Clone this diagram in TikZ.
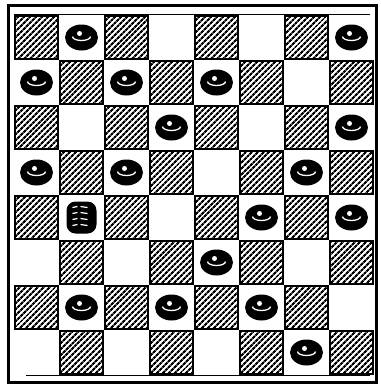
\documentclass[tikz,border=0pt]{standalone}
\usepackage{tikz}
\usetikzlibrary{shapes.geometric,patterns.meta}

\tikzset{
  dark/.style={pattern={Lines[angle=45,distance=4pt,line width=2.3pt]},
               draw=black, line width=1.1pt},
  man/.style={ellipse, fill=black, minimum width=33pt, minimum height=26pt,
              inner sep=0pt,
              path picture={
                \draw[white,line width=1.3pt]
                  ([xshift=-9pt,yshift=1pt]path picture bounding box.center)
                  arc[start angle=180,end angle=360,x radius=9pt,y radius=4pt];
                \fill[white] ([xshift=-2pt,yshift=4pt]path picture bounding box.center)
                  circle[radius=2.5pt];
              }},
  king/.style={rectangle, rounded corners=9pt, fill=black, minimum width=30pt,
               minimum height=32pt, inner sep=0pt,
               path picture={
                 \foreach \h in {-8,-2,4,10}
                   \draw[white,line width=1.2pt]
                     ([xshift=-9pt,yshift=\h pt]path picture bounding box.center)
                     -- ++(5pt,1pt) ++(3pt,0) -- ++(7pt,-1pt);
               }}
}

\begin{document}
\begin{tikzpicture}[x=1pt,y=-1pt]
\useasboundingbox (0,0) rectangle (381,384);

% --- CORNICE ---
\draw[line width=3pt] (8.5,5.5) rectangle (376,382);
\draw[line width=.9pt] (14,14) -- (370,14);
\draw[line width=.9pt] (26,375) -- (370,375);

% --- CASE SCURE (tratteggiate) ---
\foreach \r in {0,...,7} {
  \foreach \c in {0,...,7} {
    \pgfmathtruncatemacro{\odd}{mod(\r+\c,2)}
    \ifnum\odd=0
      \path[dark] (15+45*\c,16+45*\r) rectangle ++(43,43);
    \fi
  }
}

% --- PEDINE ---
\foreach \r/\c in {0/1,0/7,1/0,1/2,1/4,2/3,2/7,3/0,3/2,3/6,4/5,4/7,5/4,6/1,6/3,6/5,7/6} {
  \node[man] (p\r\c) at (36.5+45*\c,37.5+45*\r) {};
}

% --- DAMA ---
\node[king] (k41) at (81.5,217.5) {};

\end{tikzpicture}
\end{document}
